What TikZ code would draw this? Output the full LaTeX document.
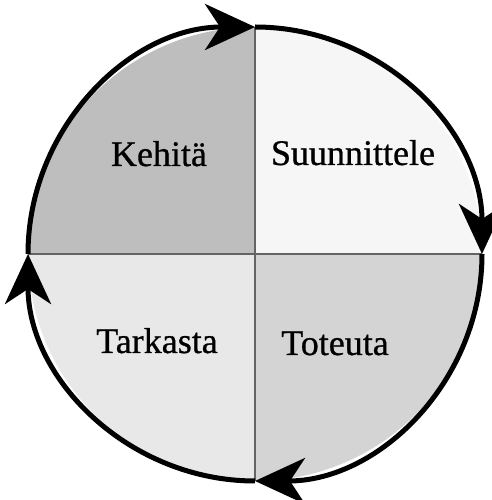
\documentclass[tikz,border=0pt]{standalone}
\usepackage{fontspec}
\setmainfont{Liberation Serif}
\newfontfamily\lblfont{Liberation Serif}[UprightFeatures={FakeBold=0.8}]
\usetikzlibrary{arrows.meta}
\definecolor{qtl}{RGB}{190,190,190}
\definecolor{qtr}{RGB}{246,246,246}
\definecolor{qbl}{RGB}{232,232,232}
\definecolor{qbr}{RGB}{212,212,212}
\definecolor{divgray}{RGB}{100,100,100}
\tikzset{
  cyclearc/.style={line width=5pt, -{Stealth[length=50pt,width=46pt,inset=15pt]}},
  divider/.style={draw=divgray, line width=1.4pt},
  label/.style={font=\lblfont\fontsize{36}{40}\selectfont, anchor=base, inner sep=0pt, text=black}
}
\begin{document}
\begin{tikzpicture}[x=1pt,y=1pt]
\useasboundingbox (0,0) rectangle (491,500);
\fill[white] (0,0) rectangle (491,500);
\coordinate (c) at (255,246);
\def\R{227}
% quadrant fills
\fill[qtl] (c) -- ++(180:\R) arc[start angle=180,end angle=90,radius=\R] -- cycle;
\fill[qtr] (c) -- ++(90:\R) arc[start angle=90,end angle=0,radius=\R] -- cycle;
\fill[qbr] (c) -- ++(0:\R) arc[start angle=0,end angle=-90,radius=\R] -- cycle;
\fill[qbl] (c) -- ++(-90:\R) arc[start angle=-90,end angle=-180,radius=\R] -- cycle;
% divider lines
\path (c) ++(0,\R) coordinate (T) (c) ++(0,-\R) coordinate (B) (c) ++(-\R,0) coordinate (L) (c) ++(\R,0) coordinate (Rt);
\draw[divider] (T) -- (B);
\draw[divider] (L) -- (Rt);
% labels
\node[label] (kehita) at (159,334) {Kehitä};
\node[label] (suunnittele) at (353,335) {Suunnittele};
\node[label] (tarkasta) at (157,147) {Tarkasta};
\node[label] (toteuta) at (335,145) {Toteuta};
% cycle arcs
\draw[cyclearc] (L) arc[start angle=180,end angle=90,radius=\R];
\draw[cyclearc] (T) arc[start angle=90,end angle=0,radius=\R];
\draw[cyclearc] (Rt) arc[start angle=0,end angle=-90,radius=\R];
\draw[cyclearc] (B) arc[start angle=-90,end angle=-180,radius=\R];
\end{tikzpicture}
\end{document}
